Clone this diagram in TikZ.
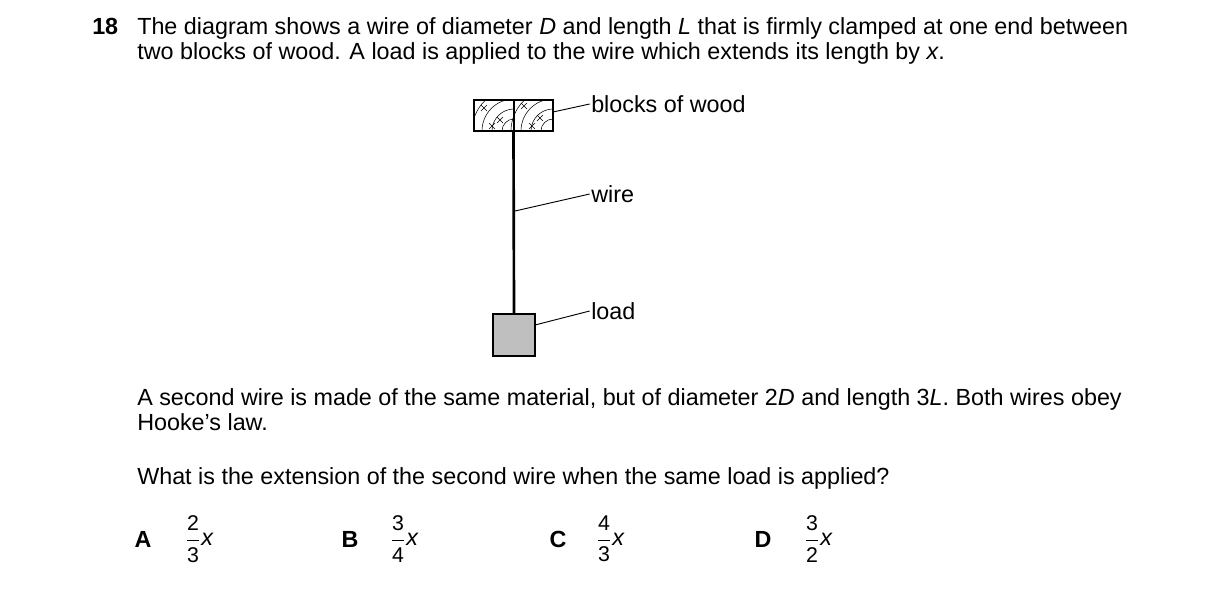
\documentclass[tikz,border=0pt]{standalone}
\usepackage{fontspec}
\usepackage{amsmath}
\setmainfont{Liberation Sans}
\begin{document}
\begin{tikzpicture}[x=0.75pt,y=-0.75pt,
  txt/.style={anchor=base west,inner sep=0,font=\fontsize{17.5}{21}\selectfont},
  lbl/.style={anchor=west,inner sep=0,font=\fontsize{17.5}{21}\selectfont},
  lead/.style={line width=0.7pt},
  opt/.style={anchor=center,inner sep=0,font=\fontsize{17.5}{21}\selectfont\bfseries},
  frac/.style={anchor=center,inner sep=0,font=\fontsize{16}{19}\selectfont}]
\useasboundingbox (0,0) rectangle (1216,589);
\node[txt,font=\fontsize{17.5}{21}\selectfont\bfseries] (num) at (92,34) {18};
\node[txt] (l1) at (137,34) {The diagram shows a wire of diameter \textit{D} and length \textit{L} that is firmly clamped at one end between};
\node[txt] (l2) at (137,59) {two blocks of wood. A load is applied to the wire which extends its length by \textit{x}.};
% blocks
\node[draw,line width=1.5pt,minimum width=79*0.75pt,minimum height=31*0.75pt,inner sep=0] (blk) at (513.5,115.5) {};
\begin{scope}
\clip (474,100) rectangle (553,131);
\foreach \r in {12,22,32,42} {
  \draw[line width=0.4pt] (514,131) ++(180:\r) arc (180:270:\r);
  \draw[line width=0.4pt] (553,131) ++(180:\r) arc (180:270:\r);
}
\foreach \p in {(484,108),(500,120),(524,106),(540,118),(492,126),(532,126)} {
  \draw[line width=0.4pt] \p ++(-3,-3) -- ++(6,6) \p ++(-3,3) -- ++(6,-6);
}
\end{scope}
\draw[line width=1.5pt] (514,100) -- (514,131);
\node[draw,line width=1.5pt,fill=black!25,minimum size=42*0.75pt,inner sep=0] (load) at (514,335) {};
\draw[line width=2pt] (blk.south) -- (load.north);
\coordinate (wp) at (515,211);
\node[lbl] (tb) at (591,104) {blocks of wood};
\node[lbl] (tw) at (591,194) {wire};
\node[lbl] (tl) at (591,311) {load};
\draw[lead] (553,112) -- ([xshift=-1pt]tb.west);
\draw[lead] (wp) -- ([xshift=-1pt]tw.west);
\draw[lead] (535,325) -- ([xshift=-1pt]tl.west);
\node[txt] (p1) at (137,405) {A second wire is made of the same material, but of diameter 2\textit{D} and length 3\textit{L}. Both wires obey};
\node[txt] (p2) at (137,430) {Hooke’s law.};
\node[txt] (q) at (137,484) {What is the extension of the second wire when the same load is applied?};
\foreach \L/\xl/\xf/\n/\d in {A/143/193/2/3, B/350/398/3/4, C/558/604/4/3, D/763/812/3/2} {
  \node[opt] (o\L) at (\xl,539) {\L};
  \node[frac] (f\L) at (\xf,539) {$\dfrac{\text{\n}}{\text{\d}}$};
  \node[lbl] (x\L) at (\xf+8,539) {\textit{x}};
}
\end{tikzpicture}
\end{document}
